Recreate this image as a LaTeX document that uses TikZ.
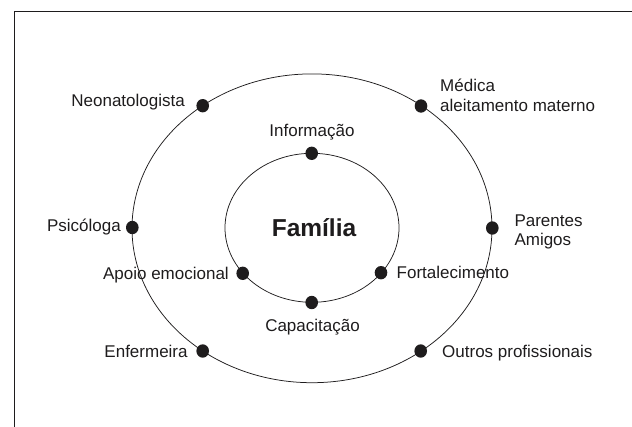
\documentclass[tikz,border=0pt]{standalone}
\usepackage{fontspec}
\setmainfont{Liberation Sans}
\usetikzlibrary{shapes.geometric}
\definecolor{ink}{RGB}{30,28,29}
\begin{document}
\begin{tikzpicture}[x=1pt,y=1pt,
  ring/.style={draw=ink, ellipse, line width=0.75pt, inner sep=0pt, outer sep=0pt},
  dot/.style={fill=ink, ellipse, minimum width=12.6pt, minimum height=13.4pt, inner sep=0pt},
  lbl/.style={font=\fontsize{17}{20}\selectfont, inner sep=0pt, text=ink},
  famlbl/.style={font=\bfseries\fontsize{24.5}{28}\selectfont, inner sep=0pt, text=ink},
  frame/.style={draw=ink, line width=1.7pt}
]
\useasboundingbox (0,0) rectangle (632,-426);
% frame (only left and top edges visible)
\coordinate (fa) at (14.6,-427);
\coordinate (fb) at (14.6,-11.6);
\coordinate (fc) at (633,-11.6);
\draw[frame] (fa) -- (fb) -- (fc);
% rings
\node[ring, minimum width=360pt, minimum height=308.8pt] (outer) at (312,-228.3) {};
\node[ring, minimum width=174pt, minimum height=149pt] (inner) at (312,-227.8) {};
% center label
\node[famlbl, anchor=base] (fam) at (314,-236) {Família};
% dots on outer ring
\node[dot] (dneo) at (202.7,-105.7) {};
\node[dot] (dmed) at (421,-106) {};
\node[dot] (dpsi) at (132.3,-227.5) {};
\node[dot] (dpar) at (492.3,-228) {};
\node[dot] (denf) at (202.7,-351) {};
\node[dot] (dout) at (420.7,-351) {};
% dots on inner ring
\node[dot] (dinf) at (311.7,-153.3) {};
\node[dot] (dcap) at (311.7,-302.5) {};
\node[dot] (dapo) at (242.7,-273.3) {};
\node[dot] (dfor) at (381,-272.7) {};
% labels
\node[lbl, anchor=base east] (neo) at (185,-106.8) {Neonatologista};
\node[lbl, anchor=base west] (med1) at (440,-91) {Médica};
\node[lbl, anchor=base west] (med2) at (440,-111.5) {aleitamento materno};
\node[lbl, anchor=base east] (psi) at (121,-231.5) {Psicóloga};
\node[lbl, anchor=base west] (par1) at (514.3,-226.7) {Parentes};
\node[lbl, anchor=base west] (par2) at (514.3,-245.5) {Amigos};
\node[lbl, anchor=base] (inf) at (312,-136.5) {Informação};
\node[lbl, anchor=base east] (apo) at (229,-279) {Apoio emocional};
\node[lbl, anchor=base west] (for) at (396.5,-278.5) {Fortalecimento};
\node[lbl, anchor=base] (cap) at (312.5,-331) {Capacitação};
\node[lbl, anchor=base east] (enf) at (187.8,-357.5) {Enfermeira};
\node[lbl, anchor=base west] (out) at (442,-357.5) {Outros profissionais};
\end{tikzpicture}
\end{document}
